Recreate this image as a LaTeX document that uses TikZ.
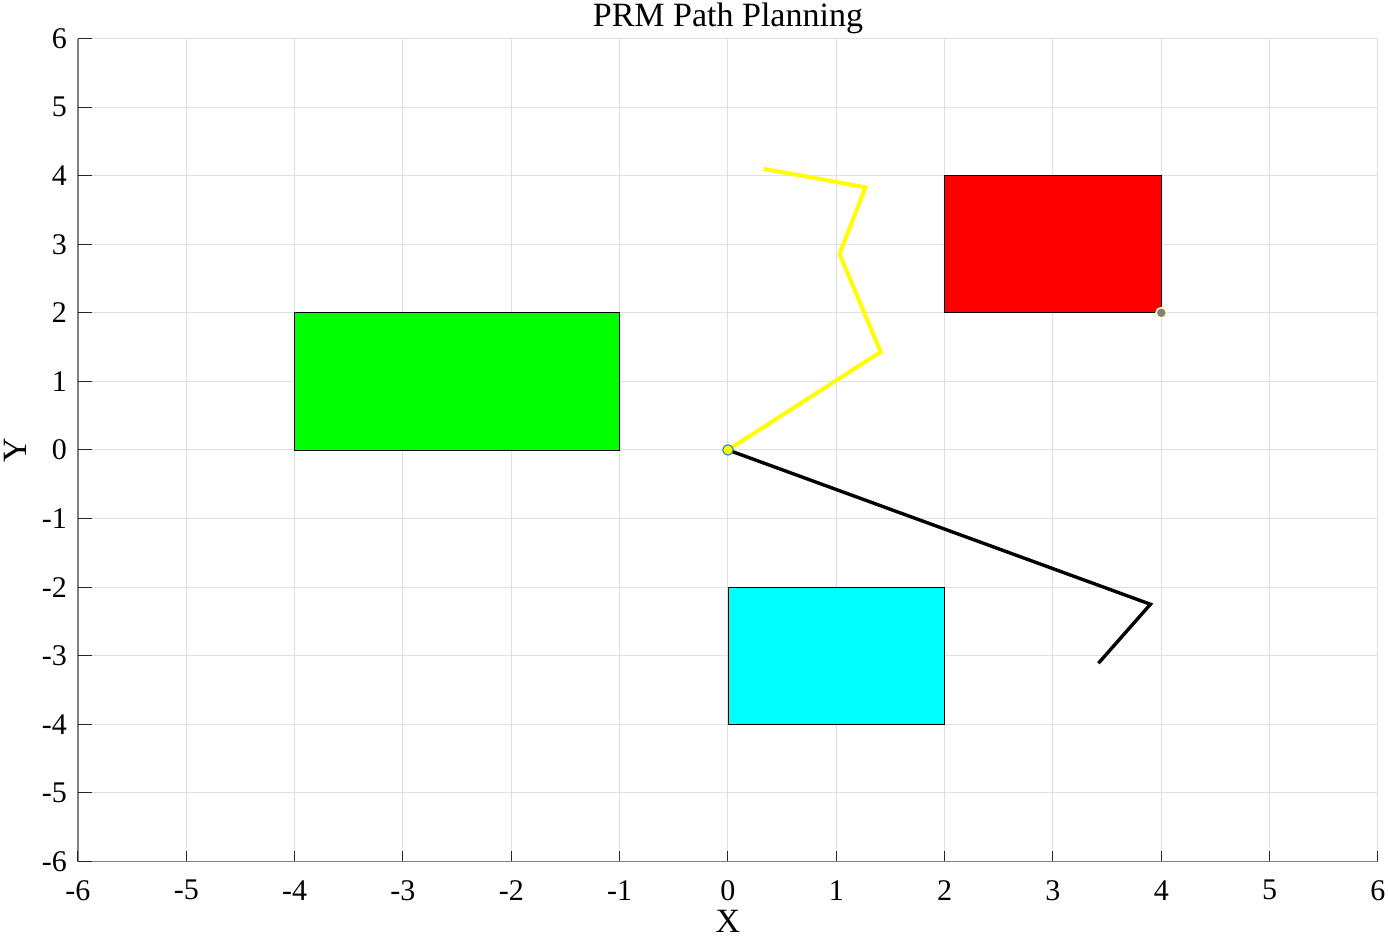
\documentclass[tikz,border=0pt]{standalone}
\usepackage{fontspec}
\setmainfont{Liberation Serif}
\usepackage{tikz}
\definecolor{obsgreen}{RGB}{0,255,0}
\definecolor{obsred}{RGB}{255,0,0}
\definecolor{obscyan}{RGB}{0,255,255}
\definecolor{pathyellow}{RGB}{255,255,0}

\begin{document}
\begin{tikzpicture}[x=54.17pt, y=34.29pt, font=\fontsize{15}{17}\selectfont,
  gridln/.style={draw=black!12, line width=0.5pt},
  axisln/.style={draw=black!50, line width=0.7pt},
  tickln/.style={draw=black!85, line width=0.5pt},
  obst/.style={draw=black, line width=0.4pt},
  pathy/.style={draw=pathyellow, line width=2pt, line join=miter},
  pathk/.style={draw=black, line width=1.7pt},
  ticklab/.style={inner sep=0pt, font=\fontsize{15}{17}\selectfont},
  axname/.style={inner sep=0pt, font=\fontsize{17}{19}\selectfont}
]
  \useasboundingbox (-6.72,-7.16) rectangle (6.093,6.562);
  % ===== grid =====
  \foreach \v in {-5,...,6} {
    \draw[gridln] (\v,-6) -- (\v,6);
    \draw[gridln] (-6,\v) -- (6,\v);
  }
  % ===== obstacles =====
  \fill[obsgreen] (-4,0) rectangle (-1,2);  \draw[obst] (-4,0) rectangle (-1,2);
  \fill[obsred]    (2,2) rectangle (4,4);   \draw[obst] (2,2) rectangle (4,4);
  \fill[obscyan]  (0,-4) rectangle (2,-2);  \draw[obst] (0,-4) rectangle (2,-2);
  % ===== paths =====
  \coordinate (start) at (0,0);
  \coordinate (goal)  at (4,2);
  \draw[pathy] (start) -- (1.41,1.43) -- (1.03,2.86) -- (1.27,3.83) -- (0.33,4.10);
  \draw[pathk] (start) -- (3.90,-2.25) -- (3.42,-3.11);
  \fill[pathyellow, draw=cyan!60!blue, line width=0.5pt] (start) circle (2.6pt);
  \fill[gray, draw=yellow!25, line width=0.8pt] (goal) circle (2.6pt);
  % ===== axes =====
  \draw[axisln] (-6,6) -- (-6,-6) -- (6,-6);
  \foreach \v in {-6,...,6} {
    \draw[tickln] (\v,-6) -- ++(0,0.15);
    \draw[tickln] (-6,\v) -- ++(0.13,0);
    \node[ticklab, anchor=east] (ylab\v) at (-6.1,\v) {\v};
    \node[ticklab, anchor=north] (xlab\v) at (\v,-6.27) {\v};
  }
  \node[axname] (xname) at (0,-6.88) {X};
  \node[axname, rotate=90] (yname) at (-6.58,0) {Y};
  \node[axname] (title) at (0,6.3) {PRM Path Planning};
\end{tikzpicture}
\end{document}
